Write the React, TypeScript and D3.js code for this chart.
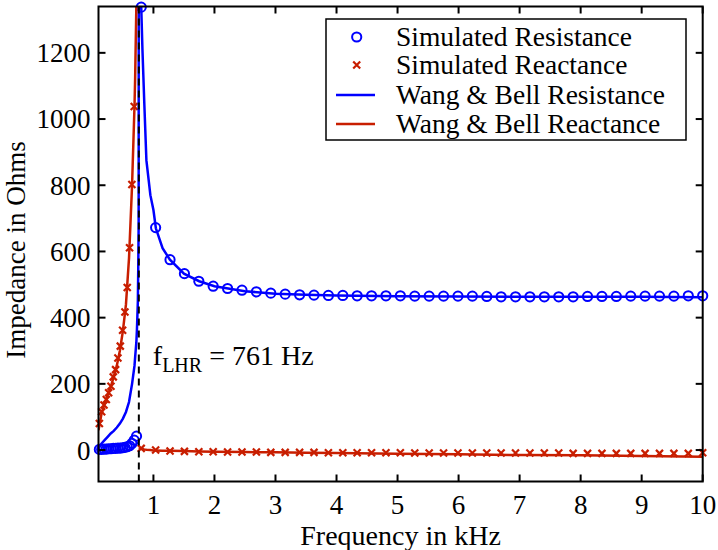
import React, { useEffect, useRef } from "react";
import * as d3 from "d3";

// tick values
const xTicks = [1, 2, 3, 4, 5, 6, 7, 8, 9, 10];
const yTicks = [0, 200, 400, 600, 800, 1000, 1200];

// simulated points below the LHR (kHz)
const lowFreqs = [0.114, 0.152, 0.19, 0.228, 0.266, 0.304, 0.342, 0.38, 0.418, 0.457, 0.495, 0.533, 0.571, 0.609, 0.647, 0.685, 0.723];
const simResLow = [2, 2, 3, 3, 4, 4, 5, 5, 6, 6, 7, 8, 10, 13, 20, 30, 42];
const simReactLow = [80, 116, 136, 153, 173, 193, 221, 243, 278, 314, 362, 417, 491, 611, 802, 1038, 1650];

// simulated points above the LHR (kHz)
const highFreqs = [0.8, 1.036, 1.272, 1.508, 1.744, 1.979, 2.215, 2.451, 2.687, 2.923, 3.159, 3.395, 3.631, 3.867, 4.103, 4.338, 4.574, 4.81, 5.046, 5.282, 5.518, 5.754, 5.99, 6.226, 6.462, 6.697, 6.933, 7.169, 7.405, 7.641, 7.877, 8.113, 8.349, 8.585, 8.821, 9.056, 9.292, 9.528, 9.764, 10];
const simResHigh = [1338, 672, 575, 533, 510, 495, 488, 483, 478, 474, 471, 469, 468, 467, 467, 466, 466, 466, 466, 465, 465, 465, 465, 465, 464, 463, 463, 463, 463, 463, 463, 464, 464, 464, 465, 465, 465, 465, 466, 466];
const simReactHigh = [5, 0, -3, -4, -5, -5, -6, -6, -6, -7, -7, -7, -7, -8, -8, -8, -8, -8, -8, -9, -9, -9, -9, -9, -9, -9, -9, -9, -9, -9, -10, -10, -10, -10, -10, -10, -10, -10, -10, -8];

// Wang & Bell theory curves
const theoryLowFreqs = [0.1, 0.15, 0.2, 0.25, 0.3, 0.35, 0.4, 0.45, 0.5, 0.55, 0.6, 0.65, 0.69, 0.7, 0.72, 0.73, 0.745, 0.752, 0.758];
const theoryResLow = [8, 20, 30, 40, 50, 58, 68, 80, 95, 115, 145, 200, 255, 280, 325, 365, 450, 560, 680];
const theoryReactLow = [60, 110, 140, 165, 190, 222, 255, 300, 360, 440, 580, 800, 1040, 1120, 1340, 1500, 1900, 2300, 2800];
const theoryHighFreqs = [0.762, 0.78, 0.8, 0.82, 0.85, 0.885, 0.95, 1.0, 1.04, 1.15, 1.27, 1.5, 1.75, 2.0, 2.5, 3.0, 3.5, 4, 5, 6, 7, 8, 9, 10];
const theoryResHigh = [3000, 1800, 1340, 1210, 1050, 875, 770, 725, 670, 610, 575, 533, 510, 495, 480, 472, 469, 467, 465, 464, 463, 463, 463, 462];
const theoryReactHigh = [8, 6, 4, 3, 2, 1, 0, -1, -1, -2, -2, -3, -4, -5, -6, -7, -8, -9, -11, -13, -15, -16, -18, -20];

const fLHR = 0.761;

const legendItems = [
  { label: "Simulated Resistance", kind: "circle", color: "#0000ff" },
  { label: "Simulated Reactance", kind: "cross", color: "#c81e00" },
  { label: "Wang & Bell Resistance", kind: "line", color: "#0000ff" },
  { label: "Wang & Bell Reactance", kind: "line", color: "#c81e00" },
];

const BLUE = "#0000ff";
const RED = "#c81e00";
const FONT = "'Liberation Serif', 'Times New Roman', serif";

export default function App() {
  const svgRef = useRef<SVGSVGElement | null>(null);

  useEffect(() => {
    if (!svgRef.current) return;
    const width = 718;
    const height = 550;
    const left = 98.5, right = 702.7, top = 6.5, bottom = 481.5;

    const svg = d3.select(svgRef.current);
    svg.selectAll("*").remove();
    svg.attr("width", width).attr("height", height);

    const x = d3.scaleLinear().domain([0.1, 10]).range([left, right]);
    const y = d3.scaleLinear().domain([-95, 1340]).range([bottom, top]);

    svg.append("rect").attr("width", width).attr("height", height).attr("fill", "#fff");

    svg.append("defs").append("clipPath").attr("id", "plot-clip")
      .append("rect").attr("x", left).attr("y", top)
      .attr("width", right - left).attr("height", bottom - top);

    const inside = (f: number, v: number) =>
      f >= 0.1 && f <= 10 && v >= -95 && v <= 1340;

    const g = svg.append("g");

    // simulated resistance (circles)
    const resPts = lowFreqs.map((f, i) => [f, simResLow[i]])
      .concat(highFreqs.map((f, i) => [f, simResHigh[i]]))
      .filter((d) => inside(d[0], d[1]));
    g.selectAll("circle.sim")
      .data(resPts)
      .join("circle")
      .attr("class", "sim")
      .attr("cx", (d) => x(d[0]))
      .attr("cy", (d) => y(d[1]))
      .attr("r", 4.6)
      .attr("fill", "none")
      .attr("stroke", BLUE)
      .attr("stroke-width", 2);

    // simulated reactance (crosses)
    const reactPts = lowFreqs.map((f, i) => [f, simReactLow[i]])
      .concat(highFreqs.map((f, i) => [f, simReactHigh[i]]))
      .filter((d) => inside(d[0], d[1]));
    const cs = 3.5;
    g.selectAll("path.cross")
      .data(reactPts)
      .join("path")
      .attr("class", "cross")
      .attr("d", `M${-cs},${-cs}L${cs},${cs}M${-cs},${cs}L${cs},${-cs}`)
      .attr("transform", (d) => `translate(${x(d[0])},${y(d[1])})`)
      .attr("fill", "none")
      .attr("stroke", RED)
      .attr("stroke-width", 2.2);

    // theory lines
    const line = d3.line<number[]>().x((d) => x(d[0])).y((d) => y(d[1]));
    const lines = g.append("g").attr("clip-path", "url(#plot-clip)");

    const resLine = theoryLowFreqs.map((f, i) => [f, theoryResLow[i]])
      .concat(theoryHighFreqs.map((f, i) => [f, theoryResHigh[i]]));
    lines.append("path").attr("d", line(resLine))
      .attr("fill", "none").attr("stroke", BLUE).attr("stroke-width", 2.5);

    lines.append("path")
      .attr("d", line(theoryLowFreqs.map((f, i) => [f, theoryReactLow[i]])))
      .attr("fill", "none").attr("stroke", RED).attr("stroke-width", 2.5);
    lines.append("path")
      .attr("d", line(theoryHighFreqs.map((f, i) => [f, theoryReactHigh[i]])))
      .attr("fill", "none").attr("stroke", RED).attr("stroke-width", 2.5);

    // LHR marker
    g.append("line")
      .attr("x1", x(fLHR)).attr("x2", x(fLHR))
      .attr("y1", top).attr("y2", bottom)
      .attr("stroke", "#000").attr("stroke-width", 2)
      .attr("stroke-dasharray", "7,5");

    const ann = g.append("text")
      .attr("x", x(fLHR) + 14).attr("y", y(258))
      .attr("font-family", FONT).attr("font-size", 28).attr("fill", "#000");
    ann.append("tspan").text("f");
    ann.append("tspan").attr("font-size", 20).attr("dy", 7).text("LHR");
    ann.append("tspan").attr("dy", -7).text(" = 761 Hz");

    // frame and ticks
    const tickLen = 7;
    const axes = svg.append("g").attr("stroke", "#000").attr("stroke-width", 2);
    axes.append("rect")
      .attr("x", left).attr("y", top)
      .attr("width", right - left).attr("height", bottom - top)
      .attr("fill", "none");
    xTicks.forEach((t) => {
      axes.append("line").attr("x1", x(t)).attr("x2", x(t)).attr("y1", bottom).attr("y2", bottom - tickLen);
      axes.append("line").attr("x1", x(t)).attr("x2", x(t)).attr("y1", top).attr("y2", top + tickLen);
    });
    yTicks.forEach((t) => {
      axes.append("line").attr("x1", left).attr("x2", left + tickLen).attr("y1", y(t)).attr("y2", y(t));
      axes.append("line").attr("x1", right).attr("x2", right - tickLen).attr("y1", y(t)).attr("y2", y(t));
    });

    const labels = svg.append("g").attr("font-family", FONT).attr("font-size", 27).attr("fill", "#000");
    labels.selectAll("text.xt")
      .data(xTicks)
      .join("text")
      .attr("class", "xt")
      .attr("x", (d) => x(d))
      .attr("y", bottom + 32)
      .attr("text-anchor", "middle")
      .text((d) => d3.format("d")(d));
    labels.selectAll("text.yt")
      .data(yTicks)
      .join("text")
      .attr("class", "yt")
      .attr("x", left - 8)
      .attr("y", (d) => y(d))
      .attr("dy", "0.35em")
      .attr("text-anchor", "end")
      .text((d) => d3.format("d")(d));

    labels.append("text")
      .attr("x", (left + right) / 2)
      .attr("y", 545)
      .attr("font-size", 28)
      .attr("text-anchor", "middle")
      .text("Frequency in kHz");
    labels.append("text")
      .attr("transform", `translate(25,${(top + bottom) / 2 + 6}) rotate(-90)`)
      .attr("font-size", 27)
      .attr("text-anchor", "middle")
      .text("Impedance in Ohms");

    // legend
    const lg = svg.append("g");
    lg.append("rect")
      .attr("x", 326).attr("y", 19).attr("width", 360).attr("height", 121)
      .attr("fill", "#fff").attr("stroke", "#000").attr("stroke-width", 1.5);
    const rowY = [37, 65, 95, 124];
    legendItems.forEach((item, i) => {
      const ry = rowY[i];
      if (item.kind === "circle") {
        lg.append("circle").attr("cx", 356.7).attr("cy", ry).attr("r", 4.6)
          .attr("fill", "none").attr("stroke", item.color).attr("stroke-width", 2);
      } else if (item.kind === "cross") {
        lg.append("path")
          .attr("d", `M${-cs},${-cs}L${cs},${cs}M${-cs},${cs}L${cs},${-cs}`)
          .attr("transform", `translate(356.7,${ry})`)
          .attr("stroke", item.color).attr("stroke-width", 2.2);
      } else {
        lg.append("line").attr("x1", 336).attr("x2", 375).attr("y1", ry).attr("y2", ry)
          .attr("stroke", item.color).attr("stroke-width", 2.5);
      }
      lg.append("text")
        .attr("x", 396).attr("y", ry).attr("dy", "0.33em")
        .attr("font-family", FONT).attr("font-size", 27.5)
        .text(item.label);
    });
  }, []);

  return (
    <svg
      ref={svgRef}
      style={{ position: "absolute", left: 0, top: 0, display: "block" }}
    />
  );
}
